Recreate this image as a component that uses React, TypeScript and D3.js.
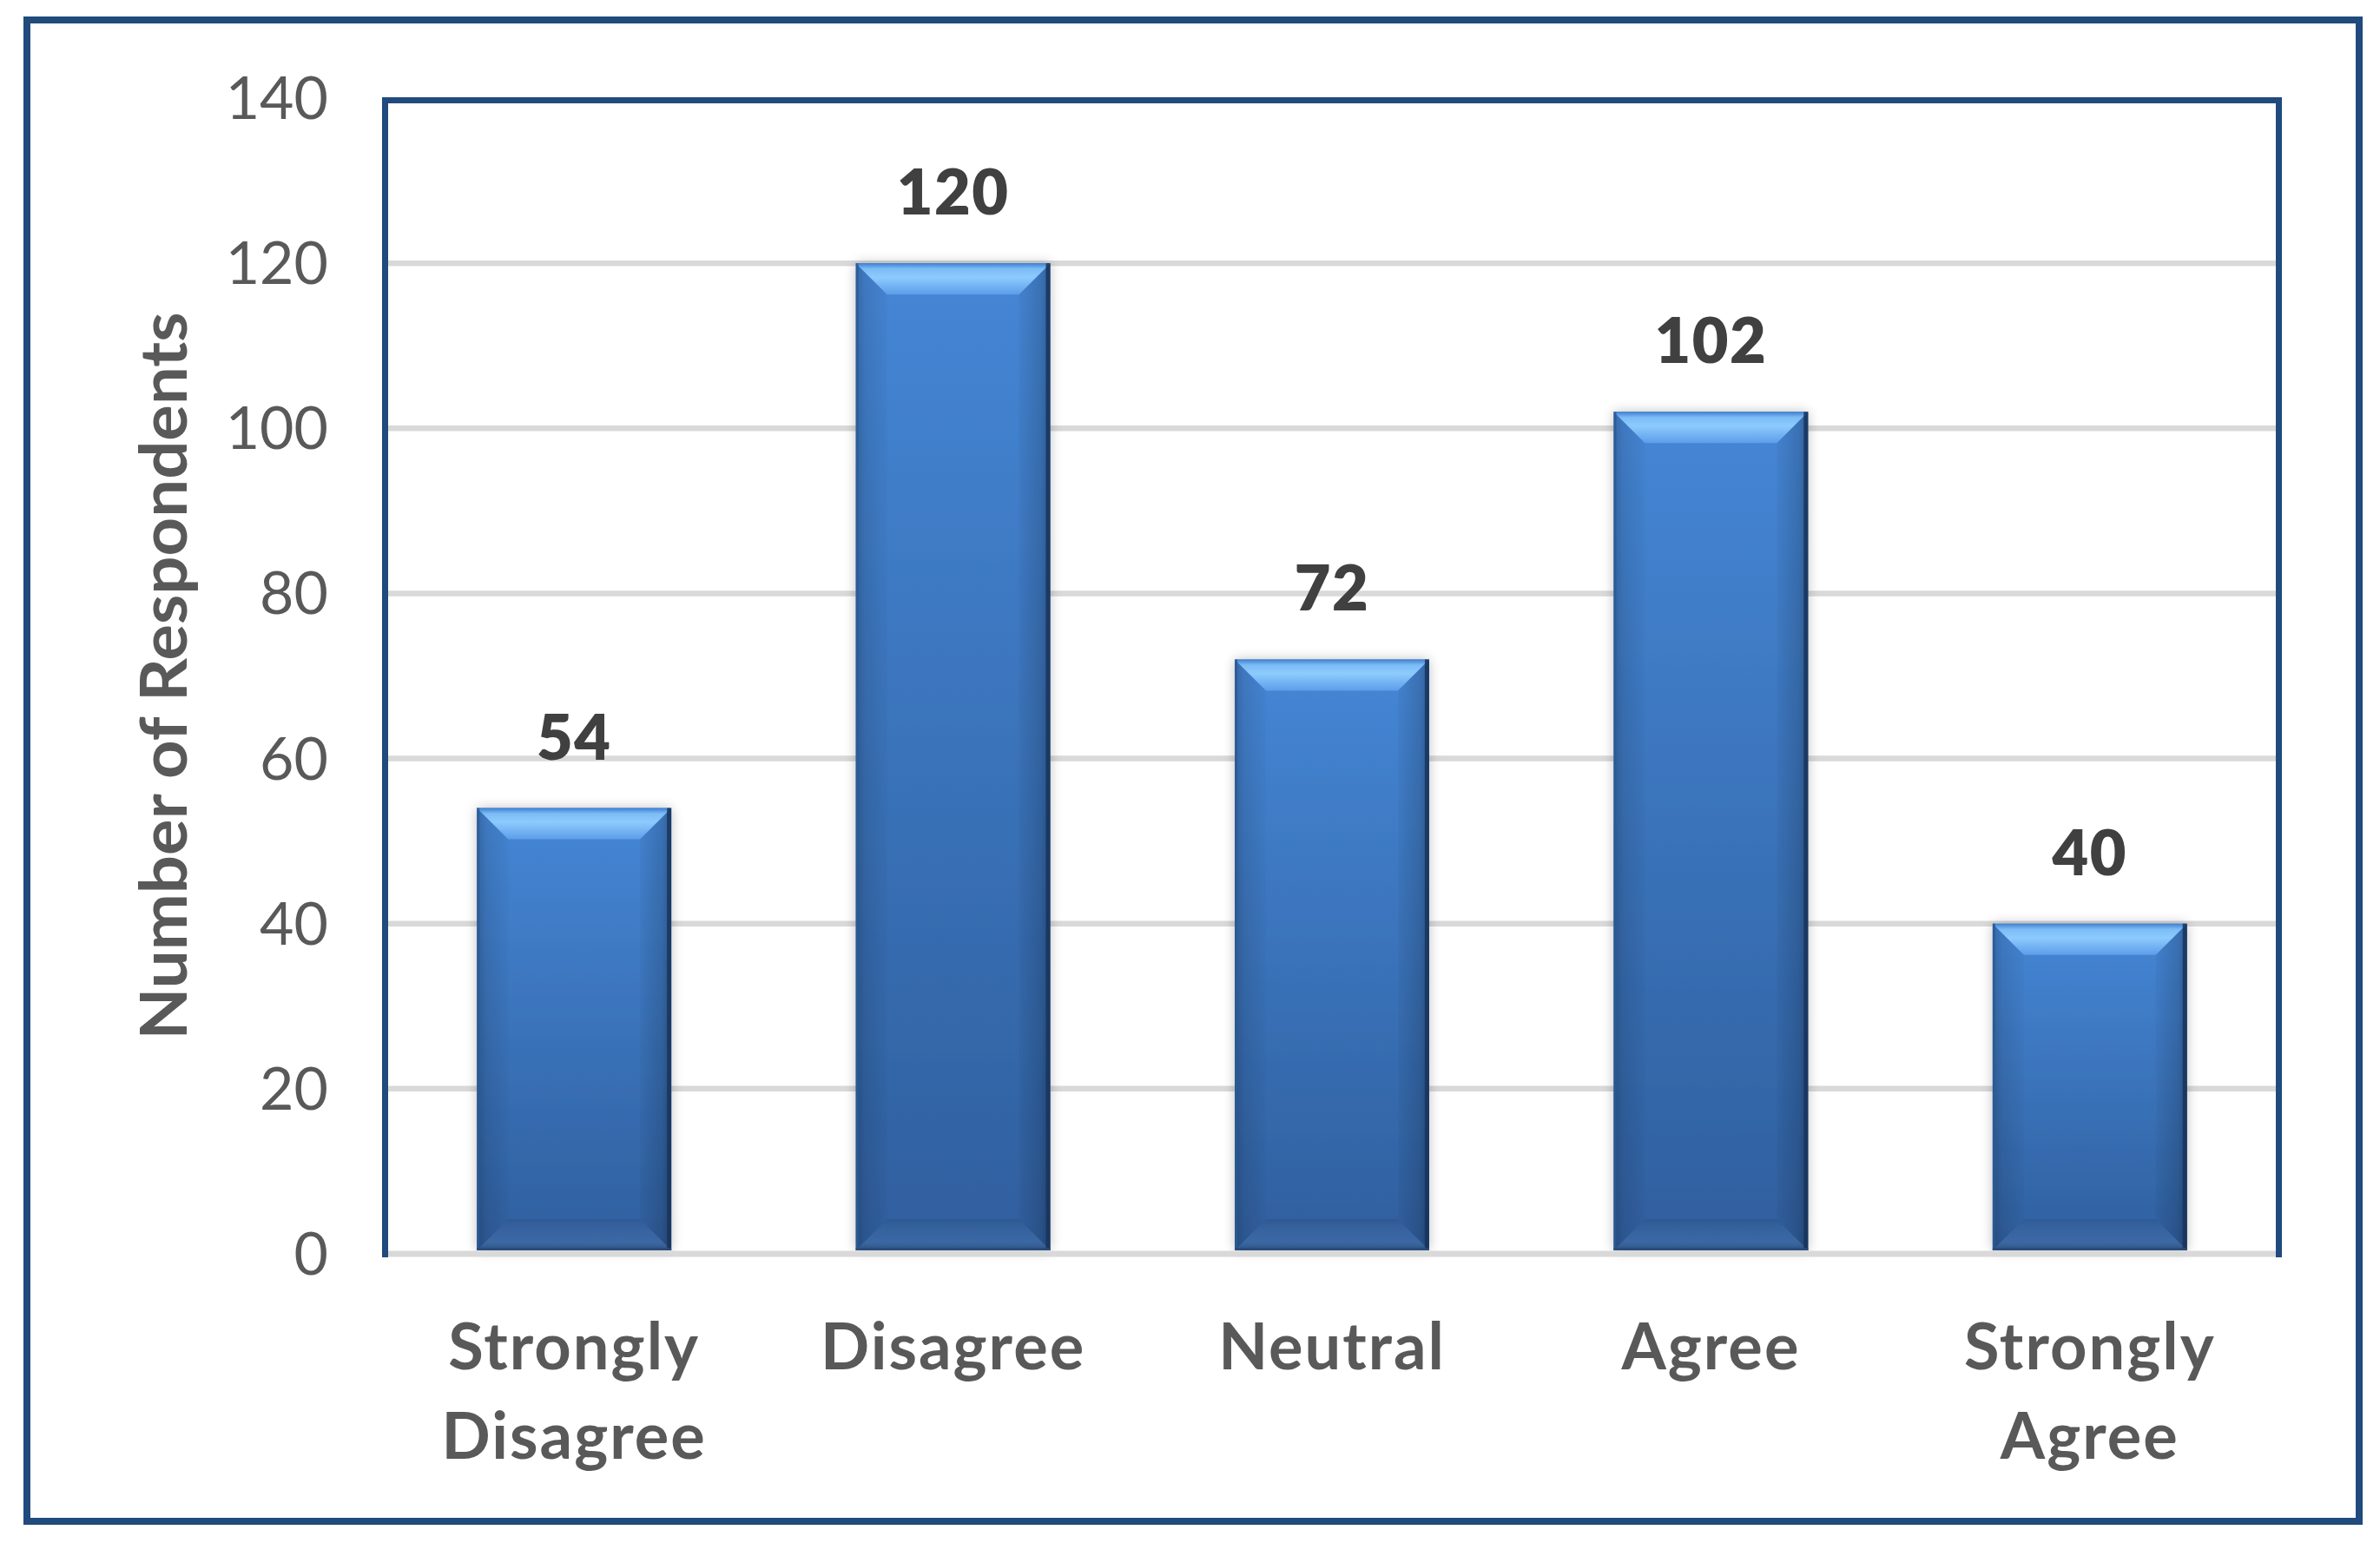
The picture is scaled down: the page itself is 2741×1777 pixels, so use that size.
import React from "react";
import * as d3 from "d3";

const categories = ["Strongly Disagree", "Disagree", "Neutral", "Agree", "Strongly Agree"];
const values = [54, 120, 72, 102, 40];
const yTicks = [0, 20, 40, 60, 80, 100, 120, 140];
const yTitle = "Number of Respondents";

const W = 2741;
const H = 1777;
const plot = { left: 443, right: 2625, top: 113, bottom: 1444 };
const BLUE = "#214a7d";
const FONT = "Lato, 'Open Sans', 'DejaVu Sans', sans-serif";

export default function App() {
  const x = d3
    .scaleBand<string>()
    .domain(categories)
    .range([plot.left, plot.right])
    .paddingInner(0.487)
    .paddingOuter(0.2435);
  const y = d3.scaleLinear().domain([0, 140]).range([plot.bottom, plot.top]);
  const bw = x.bandwidth();
  const b = 36;

  return (
    <svg
      width={W}
      height={H}
      viewBox={`0 0 ${W} ${H}`}
      style={{ position: "absolute", left: 0, top: 0, background: "#ffffff" }}
    >
      <defs>
        <linearGradient id="body" x1="0" y1="0" x2="0" y2="1">
          <stop offset="0%" stopColor="#4586d5" />
          <stop offset="100%" stopColor="#2f5f9e" />
        </linearGradient>
        <linearGradient id="topBevel" x1="0" y1="0" x2="0" y2="1">
          <stop offset="0%" stopColor="#3f7fcf" />
          <stop offset="18%" stopColor="#7cbcf6" />
          <stop offset="45%" stopColor="#8dcbfd" />
          <stop offset="100%" stopColor="#5c9de9" />
        </linearGradient>
        <linearGradient id="leftBevel" x1="0" y1="0" x2="1" y2="0">
          <stop offset="0%" stopColor="#000" stopOpacity={0.22} />
          <stop offset="30%" stopColor="#000" stopOpacity={0.1} />
          <stop offset="100%" stopColor="#000" stopOpacity={0.02} />
        </linearGradient>
        <linearGradient id="rightBevel" x1="0" y1="0" x2="1" y2="0">
          <stop offset="0%" stopColor="#000" stopOpacity={0.03} />
          <stop offset="70%" stopColor="#000" stopOpacity={0.15} />
          <stop offset="100%" stopColor="#000" stopOpacity={0.3} />
        </linearGradient>
        <linearGradient id="bottomBevel" x1="0" y1="0" x2="0" y2="1">
          <stop offset="0%" stopColor="#000" stopOpacity={0.08} />
          <stop offset="60%" stopColor="#fff" stopOpacity={0.04} />
          <stop offset="100%" stopColor="#000" stopOpacity={0.2} />
        </linearGradient>
        <filter id="shadow" x="-20%" y="-20%" width="140%" height="140%">
          <feGaussianBlur in="SourceAlpha" stdDeviation="7" />
          <feComponentTransfer>
            <feFuncA type="linear" slope="0.25" />
          </feComponentTransfer>
          <feMerge>
            <feMergeNode />
            <feMergeNode in="SourceGraphic" />
          </feMerge>
        </filter>
      </defs>

      {/* outer border */}
      <rect x={31} y={23} width={2717 - 31} height={1752 - 23} fill="#fff" stroke={BLUE} strokeWidth={8} />

      {/* gridlines */}
      {yTicks.filter((t) => t > 0 && t < 140).map((t) => (
        <line key={t} x1={plot.left} x2={plot.right} y1={y(t)} y2={y(t)} stroke="#d9d9d9" strokeWidth={6.5} />
      ))}

      {/* bars */}
      {values.map((v, i) => {
        const x0 = x(categories[i])!;
        const x1 = x0 + bw;
        const y0 = y(v);
        const y1 = y(0) - 4;
        return (
          <g key={categories[i]}>
            <rect x={x0} y={y0} width={bw} height={y1 - y0} fill="url(#body)" filter="url(#shadow)" />
            <polygon points={`${x0},${y0} ${x0 + b},${y0 + b} ${x0 + b},${y1 - b} ${x0},${y1}`} fill="url(#leftBevel)" />
            <polygon points={`${x1},${y0} ${x1 - b},${y0 + b} ${x1 - b},${y1 - b} ${x1},${y1}`} fill="url(#rightBevel)" />
            <polygon points={`${x0},${y1} ${x0 + b},${y1 - b} ${x1 - b},${y1 - b} ${x1},${y1}`} fill="url(#bottomBevel)" />
            <polygon points={`${x0},${y0} ${x1},${y0} ${x1 - b},${y0 + b} ${x0 + b},${y0 + b}`} fill="url(#topBevel)" />
            <rect x={x1 - 5} y={y0} width={5} height={y1 - y0} fill="#17345c" opacity={0.85} />
            <rect x={x0} y={y0} width={3} height={y1 - y0} fill="#2a5a96" opacity={0.8} />
            <rect x={x0} y={y1 - 3} width={bw} height={3} fill="#2a4b78" opacity={0.8} />
            <text
              x={x0 + bw / 2}
              y={y0 - 56}
              textAnchor="middle"
              fontFamily={FONT}
              fontWeight={800}
              fontSize={72}
              letterSpacing={1.5}
              fill="#404040"
            >
              {v}
            </text>
          </g>
        );
      })}

      {/* x axis line */}
      <line x1={plot.left} x2={plot.right + 3} y1={y(0)} y2={y(0)} stroke="#d9d9d9" strokeWidth={7} />

      {/* plot border (left, top, right) */}
      <path
        d={`M${plot.left + 0.5},${y(0) + 4} L${plot.left + 0.5},${115.5} L${plot.right - 0.5},${115.5} L${plot.right - 0.5},${y(0) + 4}`}
        fill="none"
        stroke={BLUE}
        strokeWidth={7}
      />

      {/* y tick labels */}
      {yTicks.map((t) => (
        <text
          key={t}
          x={378}
          y={y(t) + 24}
          textAnchor="end"
          fontFamily={FONT}
          fontSize={68}
          fill="#595959"
        >
          {t}
        </text>
      ))}

      {/* category labels */}
      {categories.map((c) => {
        const words = c.split(" ");
        const cx = x(c)! + bw / 2;
        return (
          <text
            key={c}
            x={cx}
            y={1577}
            textAnchor="middle"
            fontFamily={FONT}
            fontWeight={700}
            fontSize={74}
            letterSpacing={2}
            fill="#595959"
          >
            {words.map((w, k) => (
              <tspan key={k} x={cx} dy={k === 0 ? 0 : 103}>
                {w}
              </tspan>
            ))}
          </text>
        );
      })}

      {/* y axis title */}
      <text
        transform={`translate(215, ${(plot.top + plot.bottom) / 2}) rotate(-90)`}
        textAnchor="middle"
        fontFamily={FONT}
        fontWeight={700}
        fontSize={74}
        textLength={838}
        lengthAdjust="spacingAndGlyphs"
        fill="#595959"
      >
        {yTitle}
      </text>
    </svg>
  );
}
